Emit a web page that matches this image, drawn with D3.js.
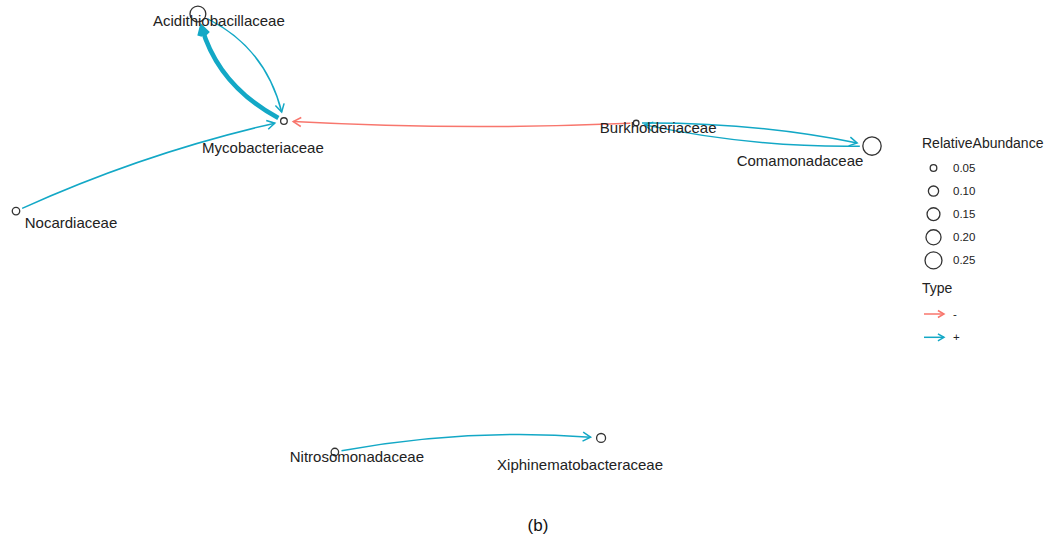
<!DOCTYPE html>
<html><head><meta charset="utf-8">
<script src="https://cdn.jsdelivr.net/npm/d3@7"></script>
<style>
html,body{margin:0;padding:0;background:#fff;}
svg{display:block;font-family:"Liberation Sans",Arial,Helvetica,sans-serif;}
</style></head>
<body><svg id="chart" width="1052" height="538"></svg>
<script>
// ---- data ----
const nodeNames = ["Acidithiobacillaceae","Mycobacteriaceae","Burkholderiaceae","Comamonadaceae","Nocardiaceae","Nitrosomonadaceae","Xiphinematobacteraceae"];
const nodeX = [-0.575,-0.374,0.449,1.0,-1.0,-0.255,0.367];       // layout coordinates
const nodeY = [1.0,0.511,0.502,0.397,0.100,-1.0,-0.936];
const nodeAbundance = [0.22,0.05,0.04,0.29,0.06,0.06,0.08];
const edgeFrom = ["Mycobacteriaceae","Acidithiobacillaceae","Burkholderiaceae","Nocardiaceae","Burkholderiaceae","Comamonadaceae","Nitrosomonadaceae"];
const edgeTo   = ["Acidithiobacillaceae","Mycobacteriaceae","Mycobacteriaceae","Mycobacteriaceae","Comamonadaceae","Burkholderiaceae","Xiphinematobacteraceae"];
const edgeType = ["+","+","-","+","+","+","+"];
const edgeWeight = [3,1,1,1,1,1,1];
const sizeBreaks = [0.05,0.10,0.15,0.20,0.25];
const typeLevels = ["-","+"];

// ---- style / layout ----
const edgeBend = [0.105,0.115,0.012,0.025,0.026,0.028,0.032]; // arc bulge relative to chord (drawing style)
const labelOffset = {
  "Acidithiobacillaceae":[21,12],
  "Mycobacteriaceae":[-21,32],
  "Burkholderiaceae":[22,10],
  "Comamonadaceae":[-72,20],
  "Nocardiaceae":[55,17],
  "Nitrosomonadaceae":[22,10],
  "Xiphinematobacteraceae":[-21,32]
};
const svg = d3.select("#chart");
const x = d3.scaleLinear().domain([-1,1]).range([16,872]);
const y = d3.scaleLinear().domain([-1,1]).range([452,14]);
const areaScale = d3.scaleLinear().domain([0.05,0.25]).range([11,72]);
const rad = v => Math.sqrt(Math.max(areaScale(v),1));
const color = d3.scaleOrdinal().domain(typeLevels).range(["#F8766D","#13A8C6"]);
const widthScale = d3.scaleLinear().domain([1,3]).range([1.5,4.6]);

const nodes = nodeNames.map((n,i)=>({name:n, x:nodeX[i], y:nodeY[i], v:nodeAbundance[i]}));
const byName = Object.fromEntries(nodes.map(n=>[n.name,n]));
const pt = p => p[0].toFixed(2)+","+p[1].toFixed(2);

function arrowHead(g, tip, dir, len, col, w){
  const ang = Math.atan2(dir[1],dir[0]);
  const a1 = ang + Math.PI - Math.PI/6, a2 = ang + Math.PI + Math.PI/6;
  const p1 = [tip[0]+len*Math.cos(a1), tip[1]+len*Math.sin(a1)];
  const p2 = [tip[0]+len*Math.cos(a2), tip[1]+len*Math.sin(a2)];
  g.append("path").attr("d",`M${pt(p1)} L${pt(tip)} L${pt(p2)}`).attr("fill","none")
    .attr("stroke",col).attr("stroke-width",w).attr("stroke-linejoin","miter").attr("stroke-linecap","butt");
}

const gEdges = svg.append("g");
edgeFrom.forEach((f,i)=>{
  const a = byName[f], b = byName[edgeTo[i]];
  const P0=[x(a.x),y(a.y)], P2=[x(b.x),y(b.y)];
  const dx = P2[0]-P0[0], dy = P2[1]-P0[1];
  const k = 2*edgeBend[i];
  const C=[(P0[0]+P2[0])/2 + k*dy, (P0[1]+P2[1])/2 - k*dx];
  const u = (p,q)=>{const L=Math.hypot(q[0]-p[0],q[1]-p[1]);return [(q[0]-p[0])/L,(q[1]-p[1])/L];};
  const us = u(P0,C), ue = u(P2,C);
  const capS = rad(a.v)+3, capE = rad(b.v)+6;
  const S=[P0[0]+us[0]*capS,P0[1]+us[1]*capS], E=[P2[0]+ue[0]*capE,P2[1]+ue[1]*capE];
  const col = color(edgeType[i]), w = widthScale(edgeWeight[i]);
  gEdges.append("path").attr("d",`M${pt(S)} Q${pt(C)} ${pt(E)}`).attr("fill","none").attr("stroke",col).attr("stroke-width",w);
  arrowHead(gEdges, E, [-ue[0],-ue[1]], 9, col, w);
});

const gNodes = svg.append("g");
gNodes.selectAll("circle").data(nodes).join("circle")
  .attr("cx",d=>x(d.x)).attr("cy",d=>y(d.y)).attr("r",d=>rad(d.v))
  .attr("fill","none").attr("stroke","#333").attr("stroke-width",1.3);
gNodes.selectAll("text").data(nodes).join("text")
  .attr("x",d=>x(d.x)+labelOffset[d.name][0]).attr("y",d=>y(d.y)+labelOffset[d.name][1])
  .attr("text-anchor","middle").attr("font-size",15).attr("fill","#222").text(d=>d.name);

// ---- legend ----
const lg = svg.append("g");
lg.append("text").attr("x",922).attr("y",148).attr("font-size",14).attr("fill","#222").text("RelativeAbundance");
sizeBreaks.forEach((b,i)=>{
  const cy = 168 + i*23.1;
  lg.append("circle").attr("cx",933.5).attr("cy",cy).attr("r",rad(b)).attr("fill","none").attr("stroke","#333").attr("stroke-width",1.3);
  lg.append("text").attr("x",953).attr("y",cy+4).attr("font-size",11.5).attr("fill","#222").text(b.toFixed(2));
});
lg.append("text").attr("x",922).attr("y",293).attr("font-size",14).attr("fill","#222").text("Type");
typeLevels.forEach((t,i)=>{
  const cy = 314 + i*23.3;
  lg.append("line").attr("x1",924).attr("x2",944).attr("y1",cy).attr("y2",cy).attr("stroke",color(t)).attr("stroke-width",1.5);
  arrowHead(lg,[944,cy],[1,0],7,color(t),1.5);
  lg.append("text").attr("x",953).attr("y",cy+4).attr("font-size",11.5).attr("fill","#222").text(t);
});

svg.append("text").attr("x",538).attr("y",531).attr("text-anchor","middle").attr("font-size",17).attr("fill","#111").text("(b)");
</script></body></html>
